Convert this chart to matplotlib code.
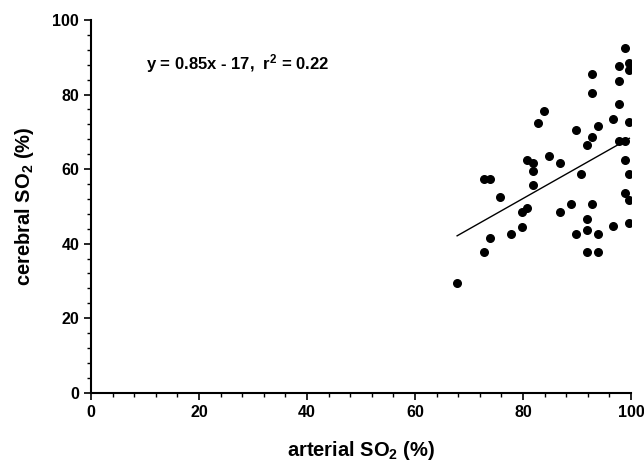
import matplotlib
matplotlib.use("Agg")
import matplotlib.pyplot as plt
from matplotlib.ticker import MultipleLocator
import numpy as np

plt.rcParams['font.family'] = ['Liberation Sans', 'DejaVu Sans']
plt.rcParams['font.weight'] = 'bold'
plt.rcParams['mathtext.fontset'] = 'custom'
plt.rcParams['mathtext.rm'] = 'Liberation Sans:bold'
plt.rcParams['mathtext.bf'] = 'Liberation Sans:bold'
plt.rcParams['mathtext.default'] = 'rm'

# arterial SO2 (%) vs cerebral SO2 (%)
arterial = [98.8, 99.7, 97.7, 99.7, 92.8, 97.7, 92.8, 97.7, 83.8, 82.8,
            96.7, 99.7, 89.8, 93.8, 92.8, 91.8, 97.7, 98.8, 80.8, 81.8,
            81.8, 84.8, 86.8, 98.8, 99.7, 90.8, 72.8, 73.8, 81.8, 75.8,
            98.8, 99.7, 88.8, 92.8, 86.8, 79.8, 80.8, 91.8, 99.7, 96.7,
            79.8, 89.8, 91.8, 93.8, 77.8, 73.8, 72.8, 91.8, 93.8, 67.8]
cerebral = [92.6, 88.5, 87.6, 86.5, 85.5, 83.5, 80.5, 77.5, 75.5, 72.4,
            73.5, 72.5, 70.6, 71.6, 68.6, 66.5, 67.5, 67.5, 62.4, 61.5,
            59.5, 63.6, 61.5, 62.5, 58.6, 58.6, 57.4, 57.4, 55.6, 52.6,
            53.7, 51.6, 50.6, 50.6, 48.6, 48.6, 49.6, 46.6, 45.6, 44.6,
            44.5, 42.7, 43.6, 42.7, 42.7, 41.6, 37.7, 37.7, 37.7, 29.5]

# regression line
fit_slope = 0.82
fit_intercept = -13.5
fit_label = "y = 0.85x - 17,  r$^2$ = 0.22"

fig = plt.figure(figsize=(6.44, 4.62), dpi=100)
ax = fig.add_axes([0.1413, 0.15, 0.8385, 0.8067])

ax.scatter(arterial, cerebral, s=30, color='black', zorder=3)

xs = np.array([min(arterial), max(arterial)])
ax.plot(xs, fit_slope * xs + fit_intercept, color='black', lw=1.0)

ax.set_xlim(0, 100)
ax.set_ylim(0, 100)
ax.xaxis.set_major_locator(MultipleLocator(20))
ax.yaxis.set_major_locator(MultipleLocator(20))
ax.xaxis.set_minor_locator(MultipleLocator(4))
ax.yaxis.set_minor_locator(MultipleLocator(4))
ax.tick_params(which='major', direction='out', length=5, width=1.2, labelsize=11.5)
ax.tick_params(which='minor', direction='out', length=3, width=1.0)
ax.spines['top'].set_visible(False)
ax.spines['right'].set_visible(False)
ax.spines['left'].set_linewidth(1.5)
ax.spines['bottom'].set_linewidth(1.5)
for lab in ax.get_xticklabels() + ax.get_yticklabels():
    lab.set_fontweight('bold')

ax.set_xlabel("arterial SO$_2$ (%)", fontsize=14.5, fontweight='bold', labelpad=14)
ax.set_ylabel("cerebral SO$_2$ (%)", fontsize=14.5, fontweight='bold', labelpad=12)

ax.text(10.2, 88.2, fit_label, fontsize=12, fontweight='bold', va='center', ha='left')

fig.savefig("out.png", dpi=100)
